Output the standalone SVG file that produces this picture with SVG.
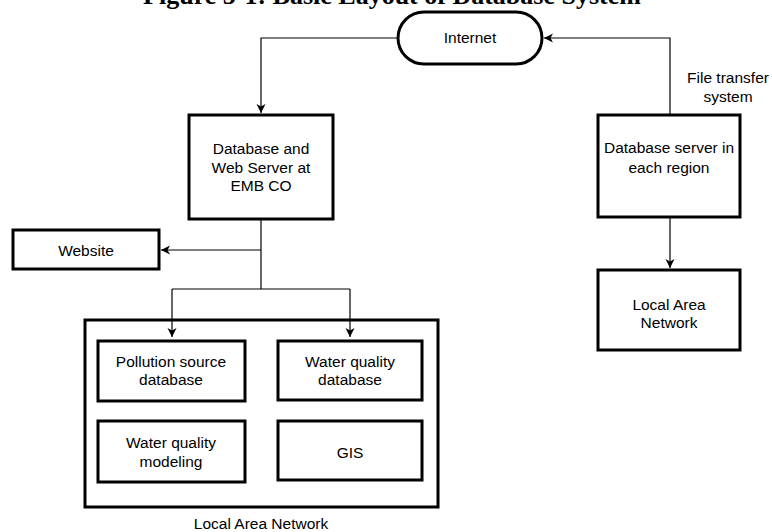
<svg xmlns="http://www.w3.org/2000/svg" width="772" height="532" viewBox="0 0 772 532">
  <style>
    .box { fill: #ffffff; stroke: #000000; stroke-width: 3; }
    .conn { fill: none; stroke: #000000; stroke-width: 1.2; }
    .lbl { font-family: "Liberation Sans", Arial, sans-serif; font-size: 15.5px; fill: #000000; text-anchor: middle; }
    .title { font-family: "Liberation Serif", "Times New Roman", serif; font-size: 26px; font-weight: bold; fill: #000000; text-anchor: middle; }
  </style>
  <defs>
    <marker id="arrow" markerUnits="userSpaceOnUse" markerWidth="10" markerHeight="10" refX="9" refY="5" orient="auto">
      <path d="M0,0.5 L9,5 L0,9.5 L2.5,5 z" fill="#000000"/>
    </marker>
  </defs>

  <rect width="772" height="532" fill="#ffffff"/>

  <!-- figure title (top edge trimmed) -->
  <text class="title" x="392" y="4">Figure 5-1: Basic Layout of Database System</text>

  <g id="internet">
    <rect class="box" x="398" y="12" width="144" height="52" rx="26" ry="26"/>
    <text class="lbl" x="470" y="43">Internet</text>
  </g>

  <g id="file-transfer-label">
    <text class="lbl" x="728" y="83">File transfer</text>
    <text class="lbl" x="728" y="102">system</text>
  </g>

  <g id="db-web-server">
    <rect class="box" x="189" y="115" width="144" height="104"/>
    <text class="lbl" x="261" y="154">Database and</text>
    <text class="lbl" x="261" y="173">Web Server at</text>
    <text class="lbl" x="261" y="191">EMB CO</text>
  </g>

  <g id="db-server-region">
    <rect class="box" x="598" y="115" width="142" height="102"/>
    <text class="lbl" x="669" y="153">Database server in</text>
    <text class="lbl" x="669" y="173">each region</text>
  </g>

  <g id="lan-region">
    <rect class="box" x="598" y="270" width="142" height="80"/>
    <text class="lbl" x="669" y="310">Local Area</text>
    <text class="lbl" x="669" y="328">Network</text>
  </g>

  <g id="website">
    <rect class="box" x="13" y="230" width="146" height="39"/>
    <text class="lbl" x="86" y="256">Website</text>
  </g>

  <g id="lan-central">
    <rect class="box" x="85" y="320" width="353" height="187"/>
    <text class="lbl" x="261" y="529">Local Area Network</text>
  </g>

  <g id="pollution-source-db">
    <rect class="box" x="98" y="341" width="147" height="60"/>
    <text class="lbl" x="171" y="367">Pollution source</text>
    <text class="lbl" x="171" y="385">database</text>
  </g>

  <g id="water-quality-db">
    <rect class="box" x="278" y="341" width="144" height="59"/>
    <text class="lbl" x="350" y="367">Water quality</text>
    <text class="lbl" x="350" y="385">database</text>
  </g>

  <g id="water-quality-modeling">
    <rect class="box" x="98" y="421" width="147" height="61"/>
    <text class="lbl" x="171" y="448">Water quality</text>
    <text class="lbl" x="171" y="467">modeling</text>
  </g>

  <g id="gis">
    <rect class="box" x="278" y="421" width="144" height="59"/>
    <text class="lbl" x="350" y="458">GIS</text>
  </g>

  <!-- connectors, drawn last so the feeds into the LAN frame stay visible -->
  <g id="connectors">
    <path class="conn" d="M398,38 H261 V113" marker-end="url(#arrow)"/>
    <path class="conn" d="M670,115 V38 H544" marker-end="url(#arrow)"/>
    <path class="conn" d="M670,217 V268" marker-end="url(#arrow)"/>
    <path class="conn" d="M261,219 V289"/>
    <path class="conn" d="M261,250 H161" marker-end="url(#arrow)"/>
    <path class="conn" d="M172,289 H350"/>
    <path class="conn" d="M172,289 V337" marker-end="url(#arrow)"/>
    <path class="conn" d="M350,289 V337" marker-end="url(#arrow)"/>
  </g>
</svg>
